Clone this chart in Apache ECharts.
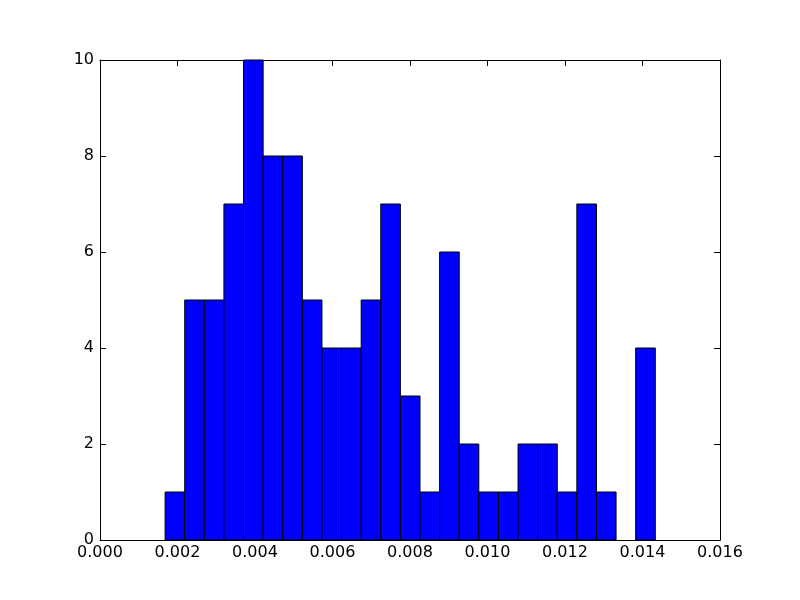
<!DOCTYPE html>
<html>
<head>
<meta charset="utf-8">
<script src="https://cdn.jsdelivr.net/npm/echarts@6/dist/echarts.min.js"></script>
<style>html,body{margin:0;padding:0;background:#fff}#c{width:800px;height:600px}</style>
</head>
<body>
<div id="c"></div>
<script>
const binStart = 0.00168;
const binWidth = 0.000506;
const counts = [1,5,5,7,10,8,8,5,4,4,5,7,3,1,6,2,1,1,2,2,1,7,1,0,4];
const xTicks = [0,0.002,0.004,0.006,0.008,0.010,0.012,0.014,0.016];
const yTicks = [0,2,4,6,8,10];

const data = counts.map((c,i)=>[binStart+i*binWidth, binStart+(i+1)*binWidth, c]);

const chart = echarts.init(document.getElementById('c'));
const axisCommon = {
  axisLine:{show:true,onZero:false,lineStyle:{color:'#000',width:1}},
  axisTick:{show:true,inside:true,length:6,lineStyle:{color:'#000'}},
  splitLine:{show:false}
};
const font = {fontFamily:'DejaVu Sans',fontSize:16,color:'#000'};
chart.setOption({
  animation:false,
  grid:{left:100,right:80,top:60,bottom:60,containLabel:false},
  xAxis:[
    Object.assign({type:'value',min:0,max:0.016,interval:0.002,position:'bottom',
      axisLabel:Object.assign({margin:5,formatter:v=>v.toFixed(3)},font)},axisCommon),
    Object.assign({type:'value',min:0,max:0.016,interval:0.002,position:'top',
      axisLabel:{show:false}},axisCommon)
  ],
  yAxis:[
    Object.assign({type:'value',min:0,max:10,interval:2,position:'left',
      axisLabel:Object.assign({margin:6},font)},axisCommon),
    Object.assign({type:'value',min:0,max:10,interval:2,position:'right',
      axisLabel:{show:false}},axisCommon)
  ],
  series:[{
    type:'custom',
    xAxisIndex:0,yAxisIndex:0,
    renderItem:function(params,api){
      const c = api.value(2);
      if(c<=0) return null;
      const p0 = api.coord([api.value(0), c]);
      const p1 = api.coord([api.value(1), 0]);
      return {type:'rect',shape:{x:p0[0],y:p0[1],width:p1[0]-p0[0],height:p1[1]-p0[1]},
        style:{fill:'#0000ff',stroke:'#000',lineWidth:1}};
    },
    encode:{x:[0,1],y:2},
    data:data
  }]
});
</script>
</body>
</html>
